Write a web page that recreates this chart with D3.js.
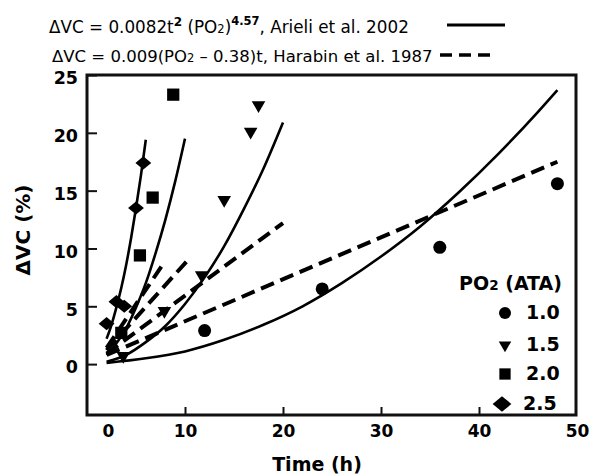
<!DOCTYPE html>
<html><head><meta charset="utf-8">
<script src="https://cdn.jsdelivr.net/npm/d3@7"></script>
<style>body{margin:0;background:#fff} svg{display:block}</style>
</head><body><svg id="c" width="590" height="475" xmlns="http://www.w3.org/2000/svg"></svg>
<script>
// ---- data ----
const xTicks = [0, 10, 20, 30, 40, 50];
const yTicks = [0, 5, 10, 15, 20, 25];
const pressures = ["1.0", "1.5", "2.0", "2.5"];
// measured points [time h, dVC %]
const pts10 = [[12, 2.9], [24, 6.5], [36, 10.1], [48, 15.6]];
const pts15 = [[3.7, 0.7], [7.9, 4.6], [11.7, 7.7], [14, 14.2], [16.7, 20.1], [17.5, 22.4]];
const pts20 = [[3.5, 2.7], [5.4, 9.4], [6.7, 14.4], [8.8, 23.3]];
const pts25 = [[2.0, 3.5], [3.0, 5.4], [3.8, 5.0], [5.0, 13.5], [5.75, 17.4]];
// Arieli et al. 2002 curves (solid)
const arieli10 = [[2, 0.1], [6, 0.5], [10, 1.1], [14, 2.1], [18, 3.4], [22, 5.0], [26, 7.0], [30, 9.3], [34, 11.9], [38, 14.9], [42, 18.2], [46, 21.8], [48, 23.7]];
const arieli15 = [[2, 0.2], [4, 0.8], [6, 1.9], [8, 3.3], [10, 5.2], [12, 7.5], [14, 10.2], [16, 13.4], [18, 16.9], [20, 20.9]];
const arieli20 = [[2, 0.8], [3, 1.8], [4, 3.1], [5, 4.9], [6, 7.0], [7, 9.6], [8, 12.5], [9, 15.8], [10, 19.5]];
const arieli25 = [[2, 2.2], [2.5, 3.4], [3, 4.9], [3.5, 6.6], [4, 8.6], [4.5, 10.9], [5, 13.5], [5.5, 16.3], [6, 19.4]];
// Harabin et al. 1987 lines (dashed)
const harabin10 = [[2, 0.8], [48, 17.5]];
const harabin15 = [[2, 0.9], [20, 12.2]];
const harabin20 = [[2, 1.2], [10.3, 9.0]];
const harabin25 = [[2, 1.4], [7.8, 8.7]];

// ---- chart ----
const svg = d3.select("#c");
const FONT = "'DejaVu Sans', Verdana, sans-serif";
const L = 87, R = 577, T = 75, B = 415, FR = 576;
const x = d3.scaleLinear().domain([0, 50]).range([L, R]);
const y = d3.scaleLinear().domain([-4.4, 25]).range([B, T]);

// axes
const xa = svg.append("g").attr("transform", `translate(0,${B})`)
  .call(d3.axisBottom(x).tickValues(xTicks).tickSize(-8).tickPadding(10).tickFormat(d3.format("d")));
xa.select(".domain").remove();
xa.selectAll(".tick line").attr("stroke", "#111").attr("stroke-width", 2);
xa.selectAll(".tick").filter(d => d === 0 || d === 50).select("line").remove();
xa.selectAll(".tick text").style("font-family", FONT).style("font-size", "17px").style("font-weight", "bold").attr("fill", "#000");
xa.selectAll(".tick").filter(d => d === 0).select("text").attr("x", 21);

const ya = svg.append("g").attr("transform", `translate(${L},0)`)
  .call(d3.axisLeft(y).tickValues(yTicks).tickSize(-10).tickPadding(9).tickFormat(d3.format("d")));
ya.select(".domain").remove();
ya.selectAll(".tick line").attr("stroke", "#111").attr("stroke-width", 2);
ya.selectAll(".tick text").style("font-family", FONT).style("font-size", "17.5px").style("font-weight", "bold").attr("fill", "#000").attr("dy", "0.5em");

// top legend
const t1 = svg.append("text").attr("x", 49).attr("y", 33)
  .style("font-family", FONT).style("font-size", "16.8px").attr("fill", "#000");
t1.append("tspan").text("ΔVC = 0.0082t");
t1.append("tspan").attr("font-weight", "bold").attr("font-size", "12px").attr("dy", -7).text("2");
t1.append("tspan").attr("dy", 7).text(" (PO");
t1.append("tspan").attr("font-size", "11.5px").text("2");
t1.append("tspan").text(")");
t1.append("tspan").attr("font-weight", "bold").attr("font-size", "11.5px").attr("dy", -8).text("4.57");
t1.append("tspan").attr("dy", 8).text(", Arieli et al. 2002");

const t2 = svg.append("text").attr("x", 52).attr("y", 62)
  .style("font-family", FONT).style("font-size", "16.5px").attr("fill", "#000");
t2.append("tspan").text("ΔVC = 0.009(PO");
t2.append("tspan").attr("font-size", "11.5px").text("2");
t2.append("tspan").text(" – 0.38)t, Harabin et al. 1987");

svg.append("line").attr("x1", 447).attr("x2", 505).attr("y1", 25).attr("y2", 25)
  .attr("stroke", "#000").attr("stroke-width", 3);
svg.append("line").attr("x1", 440).attr("x2", 492).attr("y1", 55).attr("y2", 55)
  .attr("stroke", "#000").attr("stroke-width", 3.5).attr("stroke-dasharray", "12,7");

svg.append("text").attr("x", 317).attr("y", 471).attr("text-anchor", "middle").attr("fill", "#000")
  .style("font-family", FONT).style("font-size", "19px").style("font-weight", "bold").text("Time (h)");
svg.append("text").attr("transform", "translate(23,230) rotate(-90)").attr("text-anchor", "middle").attr("dy", "0.36em").attr("fill", "#000")
  .style("font-family", FONT).style("font-size", "20px").style("font-weight", "bold").text("ΔVC (%)");

// lines
const line = d3.line().x(d => x(d[0])).y(d => y(d[1])).curve(d3.curveMonotoneX);
[arieli10, arieli15, arieli20, arieli25].forEach(s =>
  svg.append("path").attr("d", line(s)).attr("fill", "none").attr("stroke", "#000").attr("stroke-width", 2.6));
[harabin10, harabin15, harabin20, harabin25].forEach(s =>
  svg.append("path").attr("d", line(s)).attr("fill", "none").attr("stroke", "#000").attr("stroke-width", 4).attr("stroke-dasharray", "14,7"));

// markers
function marker(g, kind, cx, cy, scale) {
  const k = scale || 1;
  if (kind === 0) g.append("path").attr("d", d3.symbol(d3.symbolCircle, 133 * k)()).attr("transform", `translate(${cx},${cy})`);
  if (kind === 1) g.append("path").attr("d", d3.symbol(d3.symbolTriangle, 80 * k)()).attr("transform", `translate(${cx},${cy}) rotate(180)`);
  if (kind === 2) g.append("path").attr("d", d3.symbol(d3.symbolSquare, 150 * k)()).attr("transform", `translate(${cx},${cy})`);
  if (kind === 3) g.append("path").attr("d", d3.symbol(d3.symbolSquare, 90 * k)()).attr("transform", `translate(${cx},${cy}) scale(1.18,0.98) rotate(45)`);
}
const mg = svg.append("g").attr("fill", "#000");
[pts10, pts15, pts20, pts25].forEach((s, i) => s.forEach(d => marker(mg, i, x(d[0]), y(d[1]))));

// right legend
const lt = svg.append("text").attr("x", 562).attr("y", 290).attr("text-anchor", "end").attr("fill", "#000")
  .style("font-family", FONT).style("font-size", "19px").style("font-weight", "bold");
lt.append("tspan").text("PO");
lt.append("tspan").attr("font-size", "13.5px").text("2");
lt.append("tspan").text(" (ATA)");
const legY = [313, 345, 374, 404];
const legTX = [526, 526, 526, 523];
const lg = svg.append("g").attr("fill", "#000");
pressures.forEach((p, i) => {
  marker(lg, i, i === 3 ? 502 : 505, legY[i], i === 3 ? 1.4 : 0.85);
  lg.append("text").attr("x", legTX[i]).attr("y", legY[i] + 5.5)
    .style("font-family", FONT).style("font-size", "19px").style("font-weight", "bold").text(p);
});

// frame drawn last
svg.append("rect").attr("x", L).attr("y", T).attr("width", FR - L).attr("height", B - T)
  .attr("fill", "none").attr("stroke", "#111").attr("stroke-width", 3);
</script></body></html>
